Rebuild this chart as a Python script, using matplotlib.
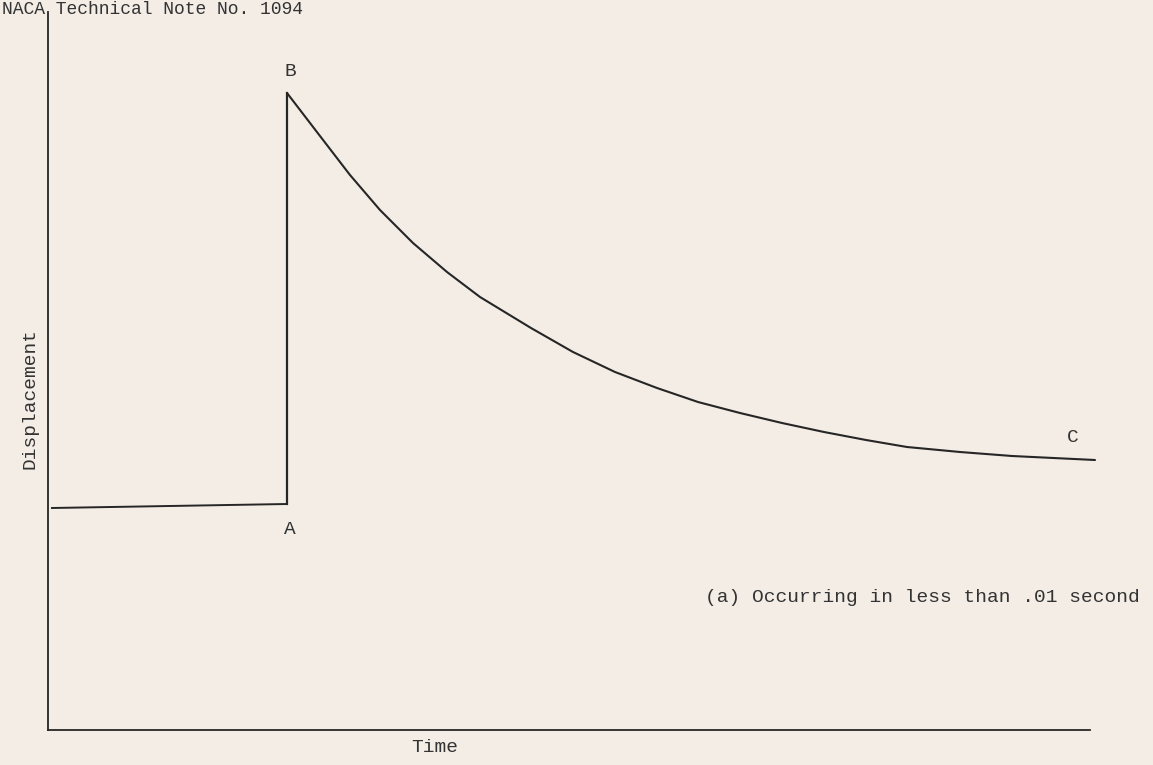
import numpy as np
import matplotlib.pyplot as plt

# values (arbitrary units)
t_base = [0.04, 2.39]
d_base = [2.22, 2.26]

t_jump = [2.39, 2.39]
d_jump = [2.26, 6.37]

t_decay = [2.39, 2.72, 3.02, 3.32, 3.65, 3.99, 4.32, 4.83, 5.25, 5.67, 6.09,
           6.50, 6.92, 7.34, 7.76, 8.18, 8.59, 9.12, 9.64, 10.47]
d_decay = [6.37, 5.94, 5.55, 5.20, 4.87, 4.58, 4.33, 4.02, 3.78, 3.58, 3.42,
           3.28, 3.17, 3.07, 2.98, 2.90, 2.83, 2.78, 2.74, 2.70]

paper = '#f3ede5'
ink = '#262626'
font = 'Liberation Mono'

fig = plt.figure(figsize=(11.53, 7.65), dpi=100, facecolor=paper)
ax = fig.add_axes([48/1153, 35/765, 1047/1153, 718/765])
ax.set_facecolor(paper)
ax.set_xlim(0, 10.47)
ax.set_ylim(0, 7.18)

for s in ['top', 'right']:
    ax.spines[s].set_visible(False)
ax.spines['bottom'].set_bounds(0, 10.42)
for s in ['left', 'bottom']:
    ax.spines[s].set_color(ink)
    ax.spines[s].set_linewidth(1.3)
ax.set_xticks([])
ax.set_yticks([])

ax.plot(t_base, d_base, color=ink, lw=1.4)
ax.plot(t_jump, d_jump, color=ink, lw=1.6)
ax.plot(t_decay, d_decay, color=ink, lw=1.5, clip_on=False,
        solid_joinstyle='round', solid_capstyle='round')

ax.text(2.42, 6.58, 'B', fontsize=14, family=font, color='#333333', ha='center', va='center')
ax.text(2.42, 2.00, 'A', fontsize=14, family=font, color='#333333', ha='center', va='center')
ax.text(10.25, 2.93, 'C', fontsize=14, family=font, color='#333333', ha='center', va='center')

fig.text(705/1153, 1 - 598/765, '(a) Occurring in less than .01 second', fontsize=14,
         family=font, color='#333333', ha='left', va='center')
fig.text(435/1153, 1 - 748/765, 'Time', fontsize=14, family=font, color='#333333',
         ha='center', va='center')
fig.text(30/1153, 1 - 398/765, 'Displacement', fontsize=14, family=font, color='#333333',
         ha='center', va='center', rotation=90)
# header line at the very top of the scan
fig.text(2/1153, 1 - 1/765, 'NACA Technical Note No. 1094', fontsize=13, family=font,
         color='#333333', ha='left', va='top')

fig.savefig('out.png', dpi=100, facecolor=paper)
